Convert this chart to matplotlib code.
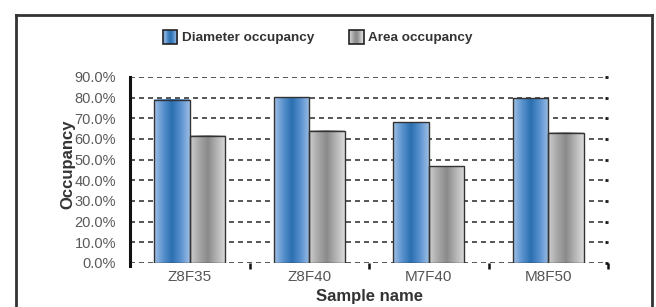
import numpy as np
import matplotlib
matplotlib.use('Agg')
import matplotlib.pyplot as plt
from matplotlib.colors import LinearSegmentedColormap
from matplotlib.patches import Rectangle
from matplotlib.legend_handler import HandlerBase
from matplotlib.lines import Line2D
from matplotlib.ticker import FuncFormatter, FixedLocator

# Datos
muestras = ['Z8F35', 'Z8F40', 'M7F40', 'M8F50']
diametro = [78.9, 80.2, 68.2, 79.7]
area = [61.6, 64.0, 46.9, 63.0]
series = ['Diameter occupancy', 'Area occupancy']

plt.rcParams['font.family'] = ['Liberation Sans', 'DejaVu Sans']

# Mapas de color para el degradado de las barras
cmap_azul = LinearSegmentedColormap.from_list('azul', ['#a3c2e6', '#5b93cf', '#2a6fb0', '#5a92cf', '#9ebfe5'])
cmap_gris = LinearSegmentedColormap.from_list('gris', ['#cfcfcf', '#a8a8a8', '#8a8a8a', '#b4b4b4', '#dcdcdc'])
gradiente = np.linspace(0, 1, 256).reshape(1, -1)


class HandlerDegradado(HandlerBase):
    def __init__(self, cmap):
        super().__init__()
        self.cmap = cmap

    def create_artists(self, legend, orig_handle, xdescent, ydescent, width, height, fontsize, trans):
        artistas = []
        n = 12
        for i in range(n):
            r = Rectangle((-xdescent + i * width / n, -ydescent), width / n + 0.05, height,
                          facecolor=self.cmap((i + 0.5) / n), edgecolor='none', transform=trans)
            artistas.append(r)
        borde = Rectangle((-xdescent, -ydescent), width, height, facecolor='none',
                          edgecolor='#222222', lw=1.2, transform=trans)
        artistas.append(borde)
        return artistas


fig = plt.figure(figsize=(6.56, 3.07), dpi=100)
ax = fig.add_axes([130 / 656, 1 - 263 / 307, 478 / 656, 186 / 307])

x = np.arange(len(muestras))
ancho = 0.295
barras_d = ax.bar(x - ancho / 2, diametro, ancho, facecolor='none', edgecolor='#333333', lw=1.0, zorder=4)
barras_a = ax.bar(x + ancho / 2, area, ancho, facecolor='none', edgecolor='#333333', lw=1.0, zorder=4)

for barras, cmap in [(barras_d, cmap_azul), (barras_a, cmap_gris)]:
    for b in barras:
        x0, w, h = b.get_x(), b.get_width(), b.get_height()
        ax.imshow(gradiente, cmap=cmap, extent=[x0, x0 + w, 0, h], aspect='auto',
                  interpolation='bicubic', zorder=3)

ax.set_xlim(-0.5, 3.5)
ax.set_ylim(0, 90)

# Lineas de cuadricula punteadas
for v in np.arange(0, 91, 10):
    ax.axhline(v, color='#3a3a3a', lw=1.2, dashes=(3.0, 2.4), zorder=2)

ax.yaxis.set_major_locator(FixedLocator(np.arange(0, 91, 10)))
ax.yaxis.set_major_formatter(FuncFormatter(lambda v, p: '%.1f%%' % v))
ax.set_xticks(x)
ax.set_xticklabels(muestras)
ax.set_xticks([0.5, 1.5, 2.5, 3.5], minor=True)
ax.tick_params(axis='x', which='major', length=0, pad=5, labelsize=11, labelcolor='#555555')
ax.tick_params(axis='x', which='minor', length=4, width=1.8, color='#111111', direction='out')
ax.tick_params(axis='y', left=False, labelleft=True, right=True, direction='in', length=2, width=2,
               color='#111111', pad=10, labelsize=10.5, labelcolor='#5a5a5a')

for s in ['top', 'right', 'bottom']:
    ax.spines[s].set_visible(False)
ax.spines['left'].set_linewidth(2.2)
ax.spines['left'].set_color('#111111')
ax.spines['left'].set_bounds(-1.5, 90)

ax.set_xlabel('Sample name', fontsize=12, fontweight='bold', color='#333333', labelpad=4)
ax.set_ylabel('Occupancy', fontsize=12, fontweight='bold', color='#333333', labelpad=0)
ax.yaxis.set_label_coords(-0.115, 0.53)

h1 = Rectangle((0, 0), 1, 1)
h2 = Rectangle((0, 1), 1, 1)
leg = fig.legend([h1, h2], series, loc='center', bbox_to_anchor=(318 / 656, 1 - 37 / 307),
                 ncol=2, frameon=False, handlelength=1.05, handleheight=1.2, handletextpad=0.35,
                 columnspacing=2.6, prop={'weight': 'bold', 'size': 9.7},
                 handler_map={h1: HandlerDegradado(cmap_azul), h2: HandlerDegradado(cmap_gris)})
for t in leg.get_texts():
    t.set_color('#333333')

# Marco exterior
marco = dict(color='#333333', lw=2.0, transform=fig.transFigure)
fig.add_artist(Line2D([16 / 656, 16 / 656], [0, 1 - 15 / 307], **marco))
fig.add_artist(Line2D([16 / 656, 652 / 656], [1 - 15 / 307, 1 - 15 / 307], **marco))
fig.add_artist(Line2D([652 / 656, 652 / 656], [0, 1 - 15 / 307], **marco))

fig.savefig('out.png', dpi=100)
